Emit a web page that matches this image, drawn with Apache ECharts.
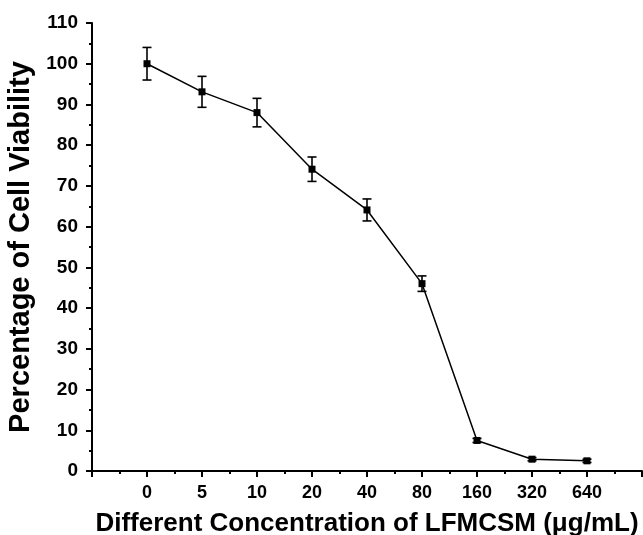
<!DOCTYPE html>
<html>
<head>
<meta charset="utf-8">
<script src="https://cdn.jsdelivr.net/npm/echarts@6/dist/echarts.min.js"></script>
<style>html,body{margin:0;padding:0;background:#fff}#c{width:643px;height:535px}</style>
</head>
<body>
<div id="c"></div>
<script>
const categories = ['0', '5', '10', '20', '40', '80', '160', '320', '640'];
const viability = [100, 93.1, 88, 74.1, 64.1, 46, 7.5, 2.9, 2.5];
const errors = [4, 3.8, 3.5, 3, 2.7, 1.9, 0.5, 0.4, 0.4];
const yTicks = [0, 10, 20, 30, 40, 50, 60, 70, 80, 90, 100, 110];

const chart = echarts.init(document.getElementById('c'));
const lineData = viability.map((v, i) => [i, v]);
const errData = viability.map((v, i) => [i, v - errors[i], v + errors[i]]);
const font = 'Liberation Sans, Arial, sans-serif';

chart.setOption({
  animation: false,
  backgroundColor: '#fff',
  grid: { left: 92, right: 1, top: 23, bottom: 64, outerBoundsMode: 'none', containLabel: false },
  xAxis: {
    type: 'value', min: -1, max: 9, interval: 1,
    name: 'Different Concentration of LFMCSM (μg/mL)',
    nameLocation: 'middle', nameGap: 40,
    nameTextStyle: { fontFamily: font, fontWeight: 'bold', fontSize: 26, color: '#000' },
    axisLine: { show: true, onZero: false, lineStyle: { color: '#000', width: 2 } },
    axisTick: { show: true, inside: false, length: 6, lineStyle: { color: '#000', width: 2 } },
    minorTick: { show: true, splitNumber: 2, length: 3, lineStyle: { color: '#000', width: 2 } },
    splitLine: { show: false },
    axisLabel: {
      margin: 13, fontFamily: font, fontWeight: 'bold', fontSize: 18, color: '#000',
      showMinLabel: true, showMaxLabel: true,
      formatter: v => (v >= 0 && v < categories.length && Number.isInteger(v)) ? categories[v] : ''
    }
  },
  yAxis: {
    type: 'value', min: yTicks[0], max: yTicks[yTicks.length - 1], interval: 10,
    name: 'Percentage of Cell Viability',
    nameLocation: 'middle', nameGap: 56,
    nameTextStyle: { fontFamily: font, fontWeight: 'bold', fontSize: 29, color: '#000' },
    axisLine: { show: true, onZero: false, lineStyle: { color: '#000', width: 2 } },
    axisTick: { show: true, inside: false, length: 6, lineStyle: { color: '#000', width: 2 } },
    minorTick: { show: true, splitNumber: 2, length: 3, lineStyle: { color: '#000', width: 2 } },
    splitLine: { show: false },
    axisLabel: { margin: 14, fontFamily: font, fontWeight: 'bold', fontSize: 19, color: '#000' }
  },
  series: [
    {
      type: 'custom',
      data: errData,
      z: 3,
      renderItem: function (params, api) {
        const x = api.value(0);
        const lo = api.coord([x, api.value(1)]);
        const hi = api.coord([x, api.value(2)]);
        const hw = 4.5;
        const st = { stroke: '#000', lineWidth: 1.6, fill: null };
        return {
          type: 'group',
          children: [
            { type: 'line', shape: { x1: lo[0], y1: lo[1], x2: hi[0], y2: hi[1] }, style: st },
            { type: 'line', shape: { x1: lo[0] - hw, y1: lo[1], x2: lo[0] + hw, y2: lo[1] }, style: st },
            { type: 'line', shape: { x1: hi[0] - hw, y1: hi[1], x2: hi[0] + hw, y2: hi[1] }, style: st }
          ]
        };
      }
    },
    {
      type: 'line',
      data: lineData,
      z: 4,
      symbol: 'rect',
      symbolSize: 7,
      showAllSymbol: true,
      lineStyle: { color: '#000', width: 1.5 },
      itemStyle: { color: '#000' }
    }
  ]
});
</script>
</body>
</html>
